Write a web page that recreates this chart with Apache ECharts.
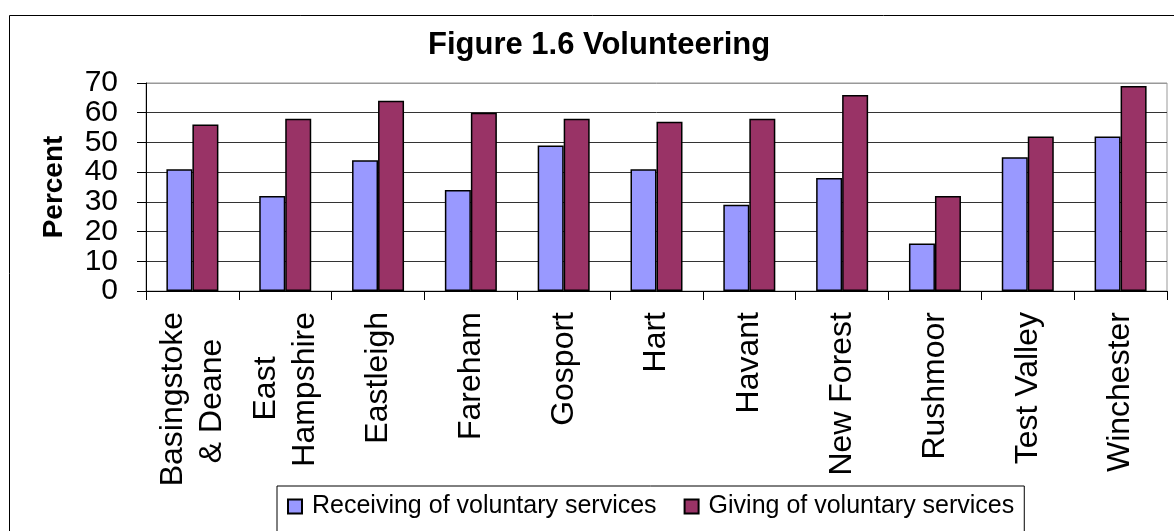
<!DOCTYPE html>
<html>
<head>
<meta charset="utf-8">
<script src="https://cdn.jsdelivr.net/npm/echarts@6/dist/echarts.min.js"></script>
<style>
  html, body { margin: 0; padding: 0; background: #fff; }
  #chart { width: 1174px; height: 531px; }
</style>
</head>
<body>
<div id="chart"></div>
<script>
// districts (x axis)
const districts = ['Basingstoke\n& Deane', 'East\nHampshire', 'Eastleigh', 'Fareham', 'Gosport',
    'Hart', 'Havant', 'New Forest', 'Rushmoor', 'Test Valley', 'Winchester'];
// percent values
const receiving = [41, 32, 44, 34, 49, 41, 29, 38, 16, 45, 52];
const giving = [56, 58, 64, 60, 58, 57, 58, 66, 32, 52, 69];
const seriesNames = ['Receiving of voluntary services', 'Giving of voluntary services'];
// y tick labels
const yTicks = ['0', '10', '20', '30', '40', '50', '60', '70'];

const font = '"Liberation Sans", Arial, sans-serif';
const catFontSize = 32;

// two-line names have their lines centred on each other (Excel style):
// the short line gets trailing no-break spaces so both lines share a centre
const measureCtx = document.createElement('canvas').getContext('2d');
measureCtx.font = catFontSize + 'px "Liberation Sans"';
const spaceW = measureCtx.measureText('\u00a0').width || catFontSize * 0.278;
function centreLines(name) {
    const lines = name.split('\n');
    if (lines.length < 2) return name;
    const widths = lines.map(s => measureCtx.measureText(s).width);
    const maxW = Math.max(...widths);
    return lines.map((s, j) => s + '\u00a0'.repeat(Math.round((maxW - widths[j]) / 2 / spaceW))).join('\n');
}

const chart = echarts.init(document.getElementById('chart'));

const option = {
    animation: false,
    backgroundColor: '#fff',
    title: {
        text: 'Figure 1.6 Volunteering',
        left: 428,
        top: 30,
        padding: 0,
        textStyle: { fontFamily: font, fontSize: 31, fontWeight: 'bold', color: '#000' }
    },
    legend: {
        data: seriesNames,
        left: 277,
        top: 486,
        padding: [8, 10, 20, 10],
        borderColor: '#000',
        borderWidth: 1,
        itemWidth: 14,
        itemHeight: 14,
        itemGap: 27,
        icon: 'rect',
        textStyle: { fontFamily: font, fontSize: 25, color: '#000', lineHeight: 25, padding: [0, 0, 0, 5] }
    },
    grid: {
        left: 146,
        right: 7,
        top: 83,
        bottom: 240,
        show: true,
        borderColor: '#999',
        borderWidth: 1
    },
    xAxis: {
        type: 'category',
        data: districts,
        axisLine: { lineStyle: { color: '#000', width: 1 } },
        axisTick: { show: true, length: 9, lineStyle: { color: '#000' } },
        axisLabel: {
            rotate: 90,
            margin: 21,
            interval: 0,
            fontFamily: font,
            fontSize: catFontSize,
            lineHeight: 39,
            color: '#000',
            formatter: centreLines
        }
    },
    yAxis: [
        {
            // value axis the bars are drawn on
            type: 'value',
            min: 0,
            max: 70,
            interval: 10,
            name: 'Percent',
            nameLocation: 'middle',
            nameGap: 78,
            nameTextStyle: { fontFamily: font, fontSize: 28, fontWeight: 'bold', color: '#000' },
            axisLine: { show: true, lineStyle: { color: '#000', width: 1 } },
            axisTick: { show: true, length: 9, lineStyle: { color: '#000' } },
            axisLabel: { show: false },
            splitLine: {
                show: true,
                lineStyle: { color: ['#333', '#333', '#333', '#333', '#333', '#333', '#333', '#999'], width: 1 }
            }
        },
        {
            // label-only axis so every tick label shows despite the tight spacing
            type: 'category',
            data: yTicks,
            boundaryGap: false,
            position: 'left',
            axisLine: { show: false },
            axisTick: { show: false },
            splitLine: { show: false },
            axisLabel: {
                interval: 0,
                margin: 28,
                fontFamily: font,
                fontSize: 30,
                color: '#000'
            }
        }
    ],
    series: [
        {
            name: seriesNames[0],
            type: 'bar',
            data: receiving,
            barWidth: 26,
            barGap: '0%',
            itemStyle: { color: '#9999FF', borderColor: '#000', borderWidth: 1.5 }
        },
        {
            name: seriesNames[1],
            type: 'bar',
            data: giving,
            barWidth: 26,
            barGap: '0%',
            itemStyle: { color: '#993366', borderColor: '#000', borderWidth: 1.5 }
        }
    ],
    graphic: [
        {
            type: 'rect',
            left: 7,
            top: 13,
            shape: { x: 0, y: 0, width: 1300, height: 700 },
            style: { fill: 'none', stroke: '#000', lineWidth: 1 },
            silent: true,
            z: -10
        }
    ]
};

chart.setOption(option);
</script>
</body>
</html>
